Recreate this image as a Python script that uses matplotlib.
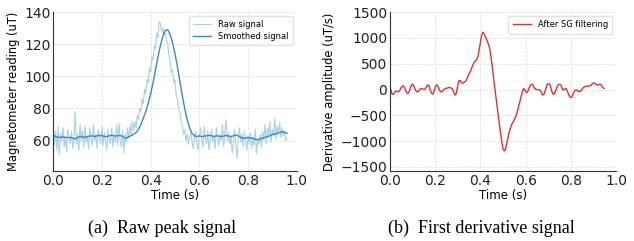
import numpy as np
import matplotlib
matplotlib.use('Agg')
import matplotlib.pyplot as plt

# Sampling step of the recorded signals (s)
dt = 0.005

# Raw magnetometer reading (uT), one value every dt
raw_signal = [
    68, 57, 66, 54, 69, 51, 64, 60, 68, 56, 63, 53, 67, 62, 58, 66, 55, 61, 78, 58,
    64, 54, 70, 60, 66, 56, 69, 59, 63, 55, 68, 61, 57, 70, 60, 64, 55, 67, 62, 58,
    69, 57, 65, 60, 54, 67, 61, 58, 68, 56, 64, 59, 70, 57, 71, 60, 56, 66, 52, 64,
    59, 68, 61, 70, 63, 72, 66, 72, 68, 76, 73, 80, 78, 86, 83, 92, 89, 98, 96, 105,
    103, 112, 110, 119, 117, 127, 124, 134, 133, 128, 130, 126, 127, 122, 121, 113, 110, 102, 104, 96,
    98, 88, 86, 80, 78, 72, 70, 64, 67, 60, 64, 58, 62, 65, 59, 55, 62, 66, 58, 54,
    63, 68, 60, 56, 69, 62, 58, 66, 54, 61, 67, 59, 63, 55, 68, 62, 57, 64, 60, 70,
    56, 66, 73, 60, 65, 58, 63, 52, 60, 67, 57, 49, 62, 68, 59, 64, 56, 66, 60, 54,
    63, 58, 65, 55, 62, 57, 67, 52, 61, 58, 64, 56, 66, 60, 70, 58, 68, 62, 72, 59,
    67, 63, 74, 61, 69, 64, 71, 62, 68, 63, 66, 60, 61,
]

# Smoothed reading (uT), one value every 0.01 s
smooth_step = 0.01
smoothed_signal = [
    63.5, 62.5, 62.0, 62.0, 62.3, 62.0, 61.8, 62.0, 61.5, 61.0,
    62.0, 62.5, 62.3, 62.0, 62.5, 62.8, 63.0, 62.5, 63.0, 63.2,
    63.0, 62.6, 62.5, 63.0, 63.3, 63.0, 62.8, 63.2, 63.0, 62.0,
    61.5, 62.5, 63.0, 64.0, 65.0, 67.0, 70.0, 74.0, 78.0, 83.0,
    89.0, 96.0, 104.0, 112.0, 119.0, 125.0, 128.5, 129.0, 126.0, 121.0,
    114.0, 106.0, 97.0, 88.0, 80.0, 73.0, 68.0, 64.5, 63.0, 62.5,
    63.0, 62.5, 62.8, 63.0, 63.3, 63.0, 62.5, 63.0, 62.8, 62.5,
    62.8, 63.2, 62.8, 62.5, 63.0, 63.5, 63.0, 62.0, 61.5, 61.5,
    62.0, 61.5, 61.5, 60.8, 60.5, 61.0, 61.5, 62.0, 62.5, 63.0,
    63.8, 64.0, 64.5, 65.0, 65.5, 65.2, 64.5,
]

# First derivative after Savitzky-Golay filtering (uT/s), one value every dt
derivative = [
    50, -20, -90, -95, -65, -35, -30, -45, -40, -5, 40, 65, 70, 35, -20, -65, -78, -40, 30, 85,
    103, 75, 20, -25, -45, -40, -10, 12, 19, 12, 2, 5, 40, 80, 88, 40, -30, -80, -88, -30,
    45, 88, 80, 30, -20, -45, -40, -15, 5, 18, 25, 32, 38, 39, 30, 15, -30, -90, -105, -40,
    80, 170, 175, 140, 125, 130, 145, 160, 200, 260, 310, 345, 400, 460, 510, 540, 565, 590, 660, 790,
    930, 1050, 1110, 1090, 1040, 990, 940, 880, 810, 680, 520, 330, 150, -20, -200, -380, -550, -720, -880, -1030,
    -1150, -1190, -1160, -1070, -960, -860, -780, -710, -660, -620, -580, -530, -470, -390, -300, -220, -130, -50, 15, 5,
    -40, -60, -30, 30, 80, 100, 100, 60, 20, 5, 0, -5, -8, -15, -60, -105, -100, -40, 40, 100,
    115, 110, 50, -30, -85, -90, -50, 10, 70, 100, 100, 90, 30, -10, 0, 18, 10, -40, -100, -145,
    -155, -140, -80, -30, -10, -15, -20, -40, -40, -20, 10, 40, 55, 62, 65, 68, 70, 72, 90, 115,
    128, 120, 100, 85, 90, 100, 103, 80, 40, 20,
]

x_ticks = [0.0, 0.2, 0.4, 0.6, 0.8, 1.0]
left_yticks = [60, 80, 100, 120, 140]
right_yticks = [-1500, -1000, -500, 0, 500, 1000, 1500]
captions = ['(a)  Raw peak signal', '(b)  First derivative signal']

t_raw = np.arange(len(raw_signal)) * dt
t_smooth = np.arange(len(smoothed_signal)) * smooth_step
t_deriv = np.arange(len(derivative)) * dt

fig = plt.figure(figsize=(6.34, 2.41), dpi=100)
ax1 = fig.add_axes([0.084, 0.290, 0.384, 0.660])
ax2 = fig.add_axes([0.615, 0.290, 0.357, 0.660])

ax1.plot(t_raw, raw_signal, color='#a8d1e6', lw=0.8, label='Raw signal')
ax1.plot(t_smooth, smoothed_signal, color='#3f86c2', lw=1.0, label='Smoothed signal')
ax1.set_ylim(41, 140)
ax1.set_yticks(left_yticks)
ax1.set_ylabel('Magnetometer reading (uT)', fontsize=8.3, labelpad=3)

ax2.plot(t_deriv, derivative, color='#dc3232', lw=1.0, label='After SG filtering')
ax2.set_ylim(-1580, 1500)
ax2.set_yticks(right_yticks)
ax2.set_ylabel('Derivative amplitude (uT/s)', fontsize=8.3, labelpad=3)

for ax in (ax1, ax2):
    ax.set_xlim(0, 1.0)
    ax.set_xticks(x_ticks)
    ax.set_xlabel('Time (s)', fontsize=8.5, labelpad=1)
    ax.grid(True, color='#dddddd', linestyle='--', linewidth=0.5)
    ax.set_axisbelow(True)
    for side in ('top', 'right'):
        ax.spines[side].set_visible(False)
    for side in ('left', 'bottom'):
        ax.spines[side].set_color('#333333')
        ax.spines[side].set_linewidth(0.8)
    ax.tick_params(length=0, labelsize=10, pad=2, colors='#222222')
    ax.legend(loc='upper right', fontsize=6, frameon=True, edgecolor='#dddddd',
              handlelength=2.2, borderpad=0.5, labelspacing=0.3)

fig.text(0.255, 0.054, captions[0], ha='center', va='center',
         family='Liberation Serif', fontsize=13)
fig.text(0.760, 0.054, captions[1], ha='center', va='center',
         family='Liberation Serif', fontsize=13)

fig.savefig('out.png', dpi=100)
